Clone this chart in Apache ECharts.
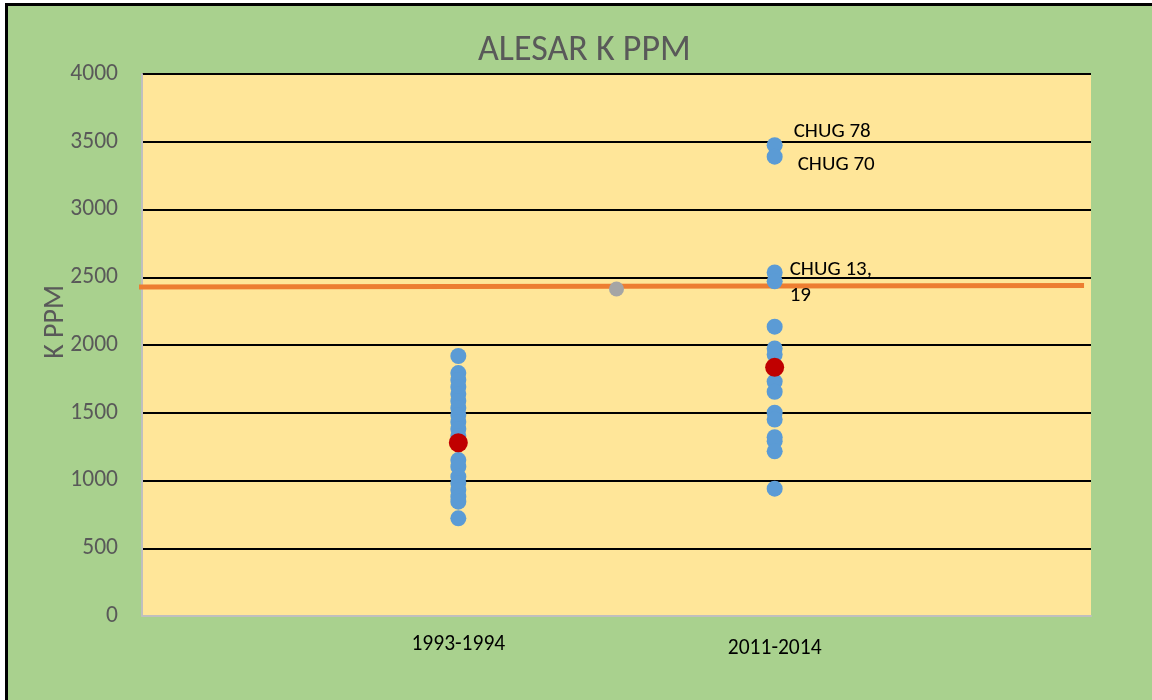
<!DOCTYPE html>
<html>
<head>
<meta charset="utf-8">
<script src="https://cdn.jsdelivr.net/npm/echarts@6/dist/echarts.min.js"></script>
<style>
  html, body { margin: 0; padding: 0; background: #fff; }
  #frame {
    position: absolute; left: 5px; top: 3px; width: 1160px; height: 710px;
    border-left: 3px solid #000; border-top: 3px solid #000; background: #a9d18e;
  }
  #chart { position: absolute; left: 0; top: 0; width: 1152px; height: 700px; }
</style>
</head>
<body>
<div id="frame"></div>
<div id="chart"></div>
<script>
// periods on the x axis (value 1 and 2)
const periods = ['1993-1994', '2011-2014'];

// K ppm samples per period
const samples1993 = [1919, 1793, 1742, 1690, 1638, 1587, 1535, 1483, 1432, 1380, 1328,
                     1151, 1102, 1028, 981, 930, 880, 844, 721];
const samples2011 = [3475, 3390, 2535, 2470, 2135, 1975, 1930, 1730, 1655,
                     1500, 1450, 1320, 1290, 1215, 940];

// mean per period
const means = [1278, 1835];

// single gray point between the periods
const midPoint = [1.5, 2413];

// orange reference line ends
const refLine = [[-0.028, 2428], [2.978, 2440]];

// labelled outliers in 2011-2014
const outlierLabels = {
    3475: { text: 'CHUG 78', offset: [11, -13] },
    3390: { text: 'CHUG 70', offset: [15, 8] },
    2535: { text: 'CHUG 13,\n19', offset: [7, 10] }
};

const font = 'Carlito, "Open Sans", sans-serif';

const chart = echarts.init(document.getElementById('chart'), null, { renderer: 'canvas' });

const blueData = samples1993.map(v => [1, v]).concat(samples2011.map(v => {
    const lab = outlierLabels[v];
    if (!lab) return [2, v];
    return {
        value: [2, v],
        label: {
            show: true,
            formatter: lab.text,
            position: 'right',
            distance: 0,
            offset: lab.offset,
            color: '#000',
            fontSize: 21,
            lineHeight: 26,
            fontFamily: font
        }
    };
}));

chart.setOption({
    backgroundColor: 'transparent',
    animation: false,
    title: {
        text: 'ALESAR K PPM',
        left: 473,
        top: 28,
        textStyle: { color: '#595959', fontSize: 36, fontWeight: 'normal', fontFamily: font }
    },
    grid: {
        left: 142, right: 61, top: 74, bottom: 84,
        show: true, backgroundColor: '#ffe699', borderWidth: 0
    },
    xAxis: {
        type: 'value',
        min: 0, max: 3, interval: 1,
        splitLine: { show: false },
        axisTick: { show: false },
        axisLine: { show: true, lineStyle: { color: '#bfbfbf', width: 2 } },
        axisLabel: {
            margin: 18,
            color: '#000',
            fontSize: 21.5,
            fontFamily: font,
            formatter: v => v === 1 ? '{a|' + periods[0] + '}' : v === 2 ? '{b|' + periods[1] + '}' : '',
            rich: {
                a: { color: '#000', fontSize: 21.5, fontFamily: font },
                b: { color: '#000', fontSize: 21.5, fontFamily: font, padding: [4, 0, 0, 0] }
            }
        }
    },
    yAxis: {
        type: 'value',
        min: 0, max: 4000, interval: 500,
        name: 'K PPM',
        nameLocation: 'middle',
        nameGap: 72,
        nameMoveOverlap: false,
        nameTextStyle: { color: '#595959', fontSize: 28, fontFamily: font, padding: [0, 0, 0, 46] },
        axisTick: { show: false },
        axisLine: { show: true, lineStyle: { color: '#bfbfbf', width: 2 } },
        axisLabel: { color: '#595959', fontSize: 23.5, margin: 24, fontFamily: font, formatter: v => String(v) },
        splitLine: { show: true, lineStyle: { color: '#000', width: 2 } }
    },
    series: [
        {
            name: 'ref',
            type: 'line',
            data: refLine,
            clip: false,
            symbol: 'none',
            lineStyle: { color: '#ed7d31', width: 5 },
            z: 2
        },
        {
            name: 'mid',
            type: 'scatter',
            data: [midPoint],
            symbolSize: 15,
            itemStyle: { color: '#a5a5a5', opacity: 1 },
            z: 3
        },
        {
            name: 'samples',
            type: 'scatter',
            data: blueData,
            symbolSize: 16,
            itemStyle: { color: '#5b9bd5', opacity: 1 },
            z: 4
        },
        {
            name: 'mean',
            type: 'scatter',
            data: means.map((v, i) => [i + 1, v]),
            symbolSize: 19,
            itemStyle: { color: '#c00000', opacity: 1 },
            z: 5
        }
    ]
});
</script>
</body>
</html>
